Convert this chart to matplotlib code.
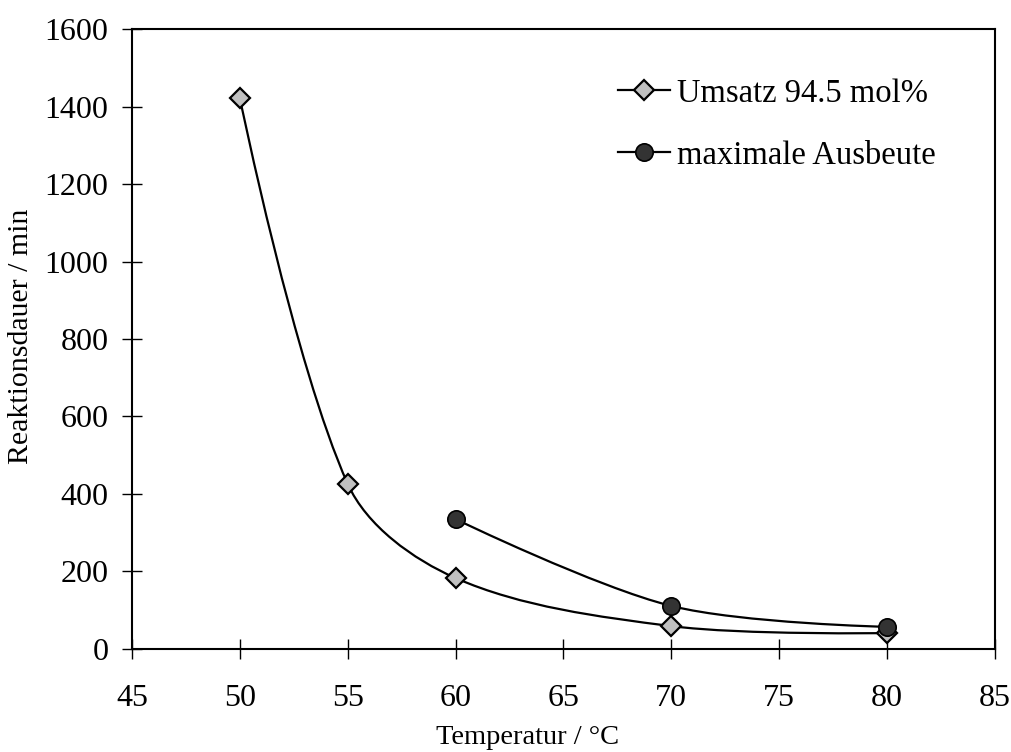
import numpy as np
import matplotlib.pyplot as plt
from matplotlib.path import Path
from matplotlib.patches import PathPatch
from matplotlib.lines import Line2D

plt.rcParams['font.family'] = ['Liberation Serif', 'DejaVu Serif']

# data
temp_umsatz = [50, 55, 60, 70, 80]
dauer_umsatz = [1422, 426, 183, 59, 41]
temp_ausbeute = [60, 70, 80]
dauer_ausbeute = [335, 111, 57]

label_umsatz = 'Umsatz 94.5 mol%'
label_ausbeute = 'maximale Ausbeute'


def smooth_path(ax, x, y):
    # excel style smoothed line, tangent lengths weighted by screen distances
    p = np.column_stack([x, y]).astype(float)
    px = ax.transData.transform(p)
    n = len(p)
    d = np.hypot(*np.diff(px, axis=0).T)
    out_c = []
    in_c = []
    for i in range(n):
        if i == 0 or i == n - 1:
            out_c.append(p[i])
            in_c.append(p[i])
            continue
        t = p[i + 1] - p[i - 1]
        w_next = d[i] / (d[i - 1] + d[i]) / 3
        w_prev = d[i - 1] / (d[i - 1] + d[i]) / 3
        out_c.append(p[i] + t * w_next)
        in_c.append(p[i] - t * w_prev)
    verts = [p[0]]
    codes = [Path.MOVETO]
    for i in range(n - 1):
        verts += [out_c[i], in_c[i + 1], p[i + 1]]
        codes += [Path.CURVE4] * 3
    return Path(verts, codes)


fig = plt.figure(figsize=(10.12, 7.52), dpi=100)
ax = fig.add_axes([0.1304, 0.137, 0.8528, 0.8244])
ax.set_xlim(45, 85)
ax.set_ylim(0, 1600)

ax.add_patch(PathPatch(smooth_path(ax, temp_umsatz, dauer_umsatz), fill=False, lw=1.6, color='black', zorder=2))
ax.add_patch(PathPatch(smooth_path(ax, temp_ausbeute, dauer_ausbeute), fill=False, lw=1.6, color='black', zorder=2))

ax.plot(temp_umsatz, dauer_umsatz, ls='none', marker='D', ms=10.5, mfc='#c0c0c0', mec='black', mew=1.6, zorder=3)
ax.plot(temp_ausbeute, dauer_ausbeute, ls='none', marker='o', ms=12.5, mfc='#333333', mec='black', mew=1.2, zorder=4)

ax.set_xticks(range(45, 90, 5))
ax.set_yticks(range(0, 1800, 200))
ax.tick_params(direction='inout', length=14, width=1, labelsize=23)
ax.tick_params(axis='x', pad=18)
ax.tick_params(axis='y', pad=10)
for s in ax.spines.values():
    s.set_linewidth(1.5)

ax.set_xlabel('Temperatur / °C', fontsize=20.5, va='center')
ax.xaxis.set_label_coords(0.458, -0.142)
ax.set_ylabel('Reaktionsdauer / min', fontsize=21.5, va='center')
ax.yaxis.set_label_coords(-0.128, 0.505)

handles = [
    Line2D([], [], color='black', lw=1.6, marker='D', ms=10.5, mfc='#c0c0c0', mec='black', mew=1.6),
    Line2D([], [], color='black', lw=1.6, marker='o', ms=12.5, mfc='#333333', mec='black', mew=1.2),
]
ax.legend(handles, [label_umsatz, label_ausbeute], loc='upper left', bbox_to_anchor=(0.548, 0.942),
          borderaxespad=0, frameon=False, fontsize=23.5, handlelength=1.6, handletextpad=0.2,
          labelspacing=0.97, numpoints=1)

fig.savefig('out.png', dpi=100)
